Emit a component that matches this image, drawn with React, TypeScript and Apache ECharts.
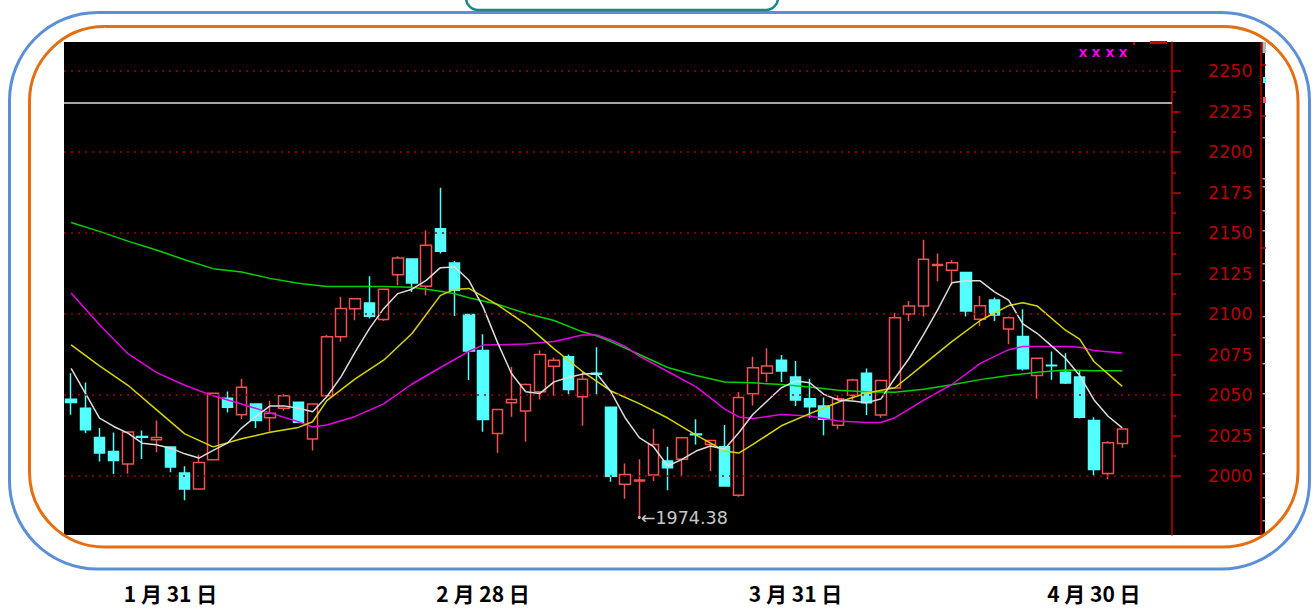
import React, { useEffect, useRef } from "react";
import * as echarts from "echarts";

// ---- data ----
const TOTAL_SLOTS = 78; // 75 trading days + 3 empty slots at the right edge
const categories: string[] = Array.from({ length: TOTAL_SLOTS }, (_, i) => `D${i + 1}`);

// [open, close, low, high]
const ohlc: number[][] = [
  [2047.4, 2045.4, 2037.8, 2063.4],
  [2041.9, 2028.5, 2026.5, 2057.7],
  [2023.8, 2014.2, 2009.0, 2029.6],
  [2015.2, 2009.6, 2001.2, 2026.9],
  [2007.4, 2027.1, 2001.4, 2027.5],
  [2024.4, 2024.0, 2010.5, 2028.1],
  [2022.4, 2023.8, 2014.6, 2034.3],
  [2017.9, 2005.5, 2002.3, 2018.2],
  [2001.8, 1992.0, 1985.0, 2006.0],
  [1992.0, 2008.4, 1992.0, 2013.1],
  [2010.1, 2051.1, 2010.1, 2051.5],
  [2048.0, 2042.5, 2039.2, 2052.1],
  [2037.8, 2054.8, 2035.1, 2059.9],
  [2044.5, 2034.3, 2029.6, 2044.5],
  [2035.9, 2038.8, 2027.5, 2046.4],
  [2041.9, 2049.5, 2040.4, 2050.5],
  [2045.6, 2033.2, 2032.6, 2045.6],
  [2022.8, 2044.5, 2015.8, 2044.5],
  [2049.5, 2086.0, 2049.5, 2087.0],
  [2086.0, 2103.4, 2082.9, 2110.6],
  [2103.3, 2109.5, 2096.2, 2109.5],
  [2106.8, 2098.6, 2097.2, 2123.3],
  [2096.6, 2115.3, 2095.7, 2115.3],
  [2124.3, 2134.6, 2117.7, 2135.6],
  [2134.0, 2119.2, 2113.6, 2134.0],
  [2117.1, 2142.4, 2111.6, 2151.6],
  [2152.7, 2138.7, 2137.3, 2177.9],
  [2131.5, 2114.6, 2098.8, 2132.7],
  [2099.7, 2077.1, 2059.2, 2099.7],
  [2077.5, 2034.9, 2027.3, 2087.5],
  [2026.3, 2041.1, 2014.4, 2041.1],
  [2045.2, 2047.3, 2036.6, 2067.4],
  [2040.1, 2056.5, 2021.2, 2057.1],
  [2052.0, 2075.0, 2047.3, 2077.7],
  [2067.8, 2071.5, 2049.5, 2073.1],
  [2073.6, 2053.4, 2050.5, 2075.0],
  [2048.9, 2059.8, 2031.0, 2064.7],
  [2063.5, 2062.8, 2050.5, 2079.5],
  [2042.5, 1999.8, 1996.4, 2042.5],
  [1994.9, 2001.0, 1986.0, 2007.8],
  [1996.9, 1997.5, 1974.38, 2010.3],
  [2000.6, 2019.5, 1996.9, 2029.2],
  [2009.3, 2005.1, 1991.2, 2018.1],
  [2010.3, 2023.7, 2000.0, 2023.7],
  [2026.0, 2025.5, 2019.5, 2035.0],
  [2019.5, 2022.0, 2003.1, 2022.0],
  [2018.1, 1993.8, 1993.8, 2031.5],
  [1988.1, 2048.4, 1987.2, 2051.9],
  [2050.8, 2066.9, 2043.6, 2073.7],
  [2063.4, 2067.9, 2058.0, 2078.8],
  [2071.4, 2064.8, 2058.0, 2074.7],
  [2061.1, 2046.9, 2043.2, 2071.0],
  [2047.7, 2042.8, 2036.0, 2060.1],
  [2043.2, 2035.0, 2025.1, 2048.4],
  [2031.3, 2047.7, 2028.8, 2049.8],
  [2049.8, 2059.3, 2046.9, 2060.1],
  [2063.5, 2045.2, 2037.7, 2066.3],
  [2037.6, 2059.0, 2036.0, 2059.3],
  [2054.3, 2097.7, 2054.3, 2100.8],
  [2100.0, 2104.9, 2095.7, 2108.0],
  [2104.9, 2133.8, 2098.4, 2145.9],
  [2129.9, 2130.5, 2120.3, 2137.3],
  [2127.0, 2131.6, 2117.8, 2133.2],
  [2125.6, 2101.8, 2098.4, 2125.6],
  [2096.7, 2105.1, 2092.6, 2111.1],
  [2108.6, 2099.4, 2095.7, 2110.2],
  [2090.8, 2097.7, 2081.4, 2098.4],
  [2086.1, 2066.2, 2065.2, 2102.9],
  [2062.1, 2072.7, 2047.7, 2072.7],
  [2068.4, 2068.0, 2059.4, 2076.8],
  [2064.1, 2057.4, 2056.8, 2075.8],
  [2061.1, 2036.3, 2035.5, 2065.2],
  [2034.2, 2004.1, 2000.4, 2036.3],
  [2001.6, 2020.5, 1998.0, 2021.5],
  [2020.1, 2029.1, 2017.4, 2029.1],
];

// short moving average (white), one value per day
const maWhite: number[] = [
  2066.5, 2051.1, 2035.7, 2030.6, 2026.5, 2020.3, 2019.3, 2017.2, 2013.7, 2011.1,
  2015.8, 2020.3, 2029.6, 2036.7, 2043.3, 2043.3, 2041.9, 2039.7, 2048.9, 2061.2,
  2076.6, 2091.0, 2103.3, 2112.6, 2115.3, 2120.8, 2128.6, 2129.0, 2120.8, 2104.4,
  2082.8, 2063.3, 2052.0, 2051.0, 2058.1, 2060.8, 2062.9, 2063.3, 2052.0, 2036.0,
  2023.7, 2018.1, 2006.2, 2010.3, 2015.4, 2018.5, 2016.5, 2026.7, 2038.1, 2046.3,
  2054.5, 2058.6, 2057.6, 2050.4, 2046.9, 2046.3, 2045.3, 2047.5, 2060.5, 2072.7,
  2087.1, 2102.5, 2119.3, 2120.5, 2120.5, 2113.7, 2108.6, 2093.9, 2088.1, 2080.5,
  2072.7, 2062.1, 2047.1, 2036.9, 2029.7,
];

// smoother averages, read at [day index, value]
const maYellow: number[][] = [
  [0, 2081], [2, 2068], [4, 2056], [6, 2041], [8, 2026], [10, 2018], [12, 2023],
  [14, 2027], [16, 2030], [17, 2033.5], [18, 2046.5], [20, 2060], [22, 2071.5],
  [24, 2088], [26, 2111.5], [27, 2115.2], [28, 2115.8], [30, 2105.8], [32, 2093.8],
  [34, 2078.5], [36, 2064.5], [38, 2052.5], [40, 2044.7], [42, 2035.8], [44, 2025.2],
  [46, 2015.5], [47, 2014.2], [48, 2019.5], [50, 2031], [52, 2038.5], [54, 2045.5],
  [56, 2051.3], [58, 2054.5], [60, 2068.8], [62, 2083], [64, 2096], [66, 2105.2],
  [67, 2107], [68, 2105], [70, 2090], [71, 2084.5], [72, 2070.7], [74, 2055.3],
];

const maMagenta: number[][] = [
  [0, 2113], [2, 2093.4], [4, 2075.5], [6, 2064], [8, 2056], [10, 2049.5],
  [12, 2044.5], [14, 2039], [16, 2033.5], [17, 2030.3], [18, 2031.5], [20, 2036.8],
  [22, 2044.5], [24, 2056.8], [26, 2067], [28, 2077], [29, 2080.8], [32, 2081.5],
  [34, 2083], [36, 2087], [37, 2087], [38, 2084], [39, 2080], [40, 2074],
  [42, 2064.5], [44, 2055], [46, 2041.5], [47, 2036.5], [48, 2035.5], [50, 2038],
  [52, 2037], [54, 2034], [56, 2033], [57, 2033], [58, 2036], [60, 2046.7],
  [62, 2056.5], [64, 2069.5], [66, 2078], [67, 2080], [70, 2080], [71, 2079.5],
  [72, 2077.5], [74, 2076],
];

const maGreen: number[][] = [
  [0, 2156.5], [2, 2151], [4, 2145], [6, 2139.5], [8, 2133.5], [10, 2128],
  [12, 2126], [14, 2122], [16, 2119], [18, 2117], [20, 2117], [22, 2117],
  [24, 2116.5], [26, 2114], [27, 2112.5], [28, 2110], [30, 2106], [32, 2100.5],
  [34, 2096], [36, 2089], [37, 2086.5], [38, 2083], [40, 2075], [42, 2067],
  [44, 2062], [46, 2058], [48, 2057.5], [50, 2056.5], [52, 2055], [54, 2053],
  [56, 2052], [58, 2051.7], [60, 2053.5], [62, 2056.4], [64, 2059.5], [66, 2062],
  [68, 2064], [70, 2065.5], [72, 2065], [74, 2065],
];

const lowMarkIndex = 40;
const lowMarkValue = 1974.38;
const resistanceLevel = 2230.4;

const yMin = 1963.6;
const yMax = 2267.9;
const majorTicks: number[] = [2000, 2025, 2050, 2075, 2100, 2125, 2150, 2175, 2200, 2225, 2250];
const minorTicks: number[] = [2012.5, 2037.5, 2062.5, 2087.5, 2112.5, 2137.5, 2162.5, 2187.5, 2212.5, 2237.5];
const gridValues: number[] = [2000, 2050, 2100, 2150, 2200, 2250];

const dateLabelIndex: number[] = [7, 29, 51, 72];
const dateLabelText: string[] = ["1 月 31 日", "2 月 28 日", "3 月 31 日", "4 月 30 日"];

const greyMarksY: number[] = [137, 178, 186, 210, 230, 263, 280, 316, 337, 363, 393, 427, 453, 473, 497, 520];

export default function App() {
  const ref = useRef<HTMLDivElement>(null);

  useEffect(() => {
    document.body.style.margin = "0";
    if (!ref.current) return;
    const chart = echarts.init(ref.current, null, { renderer: "svg" });

    const RED_AXIS = "#c00000";
    const labelMap: Record<number, string> = {};
    dateLabelIndex.forEach((idx, k) => (labelMap[idx] = dateLabelText[k]));

    const lineSeries = (name: string, data: any[], color: string) => ({
      name,
      type: "line",
      data,
      symbol: "none",
      connectNulls: true,
      smooth: false,
      z: 4,
      lineStyle: { color, width: 1.5 },
      silent: true,
    });

    const graphics: any[] = [
      // black panel
      { type: "rect", z: -10, shape: { x: 64, y: 42, width: 1201, height: 493 }, style: { fill: "#000" }, silent: true },
      // right side red divider and marks
      { type: "line", z: 10, shape: { x1: 1261, y1: 42, x2: 1261, y2: 535 }, style: { stroke: RED_AXIS, lineWidth: 1.5 } },
      ...[65, 116, 248].map((y) => ({ type: "line", z: 10, shape: { x1: 1261, y1: y, x2: 1266, y2: y }, style: { stroke: RED_AXIS, lineWidth: 1.5 } })),
      { type: "rect", z: 10, shape: { x: 1262.5, y: 42, width: 3.5, height: 11 }, style: { fill: "#b8b8b8" } },
      { type: "rect", z: 10, shape: { x: 1263, y: 77, width: 3, height: 6 }, style: { fill: "#54ffff" } },
      { type: "rect", z: 10, shape: { x: 1263, y: 97, width: 3, height: 6 }, style: { fill: "#ff5a5a" } },
      ...greyMarksY.map((y) => ({ type: "rect", z: 10, shape: { x: 1262.5, y, width: 3, height: 1.5 }, style: { fill: "#a8a8a8" } })),
      // top right red marks
      { type: "rect", z: 10, shape: { x: 1150, y: 41, width: 17, height: 3 }, style: { fill: "#d00000" } },
      { type: "rect", z: 10, shape: { x: 1133, y: 42, width: 2, height: 3 }, style: { fill: "#d00000" } },
      // magenta markers
      ...[1083, 1096, 1110, 1123].map((x) => ({
        type: "text", z: 10, x, y: 53,
        style: { text: "X", fill: "#ff00ff", font: "bold 11px 'DejaVu Sans'", align: "center", verticalAlign: "middle" },
      })),
      // decorative frames
      { type: "rect", z: 20, shape: { x: 9.5, y: 12.5, width: 1300, height: 556.5, r: 88 }, style: { fill: "none", stroke: "#5b8fd6", lineWidth: 3 }, silent: true },
      { type: "rect", z: 20, shape: { x: 29.5, y: 26.5, width: 1268.5, height: 520.5, r: 75 }, style: { fill: "none", stroke: "#e46f12", lineWidth: 3 }, silent: true },
      { type: "rect", z: 20, shape: { x: 466, y: -30, width: 312, height: 40, r: 12 }, style: { fill: "none", stroke: "#17898a", lineWidth: 2.5 }, silent: true },
    ];

    const option: any = {
      animation: false,
      backgroundColor: "#fff",
      grid: { left: 64, right: 140, top: 42, bottom: 75, containLabel: false },
      xAxis: {
        type: "category",
        data: categories,
        boundaryGap: true,
        axisLine: { show: false },
        axisTick: { show: false },
        splitLine: { show: false },
        axisLabel: {
          show: true,
          interval: (idx: number) => labelMap[idx] !== undefined,
          formatter: (_v: string, idx: number) => labelMap[idx] ?? "",
          margin: 48,
          lineHeight: 20,
          color: "#000",
          fontSize: 21,
          fontWeight: "bold",
          fontFamily: "'Noto Sans CJK SC', sans-serif",
        },
      },
      yAxis: [
        {
          type: "value",
          position: "right",
          min: yMin,
          max: yMax,
          splitLine: { show: false },
          axisLine: { show: true, lineStyle: { color: RED_AXIS, width: 1.5 } },
          axisTick: { show: true, customValues: majorTicks, length: 9, lineStyle: { color: RED_AXIS, width: 1.5 } },
          axisLabel: {
            customValues: majorTicks,
            formatter: (v: number) => String(Math.round(v)),
            margin: 36,
            color: "#b80000",
            fontSize: 17.5,
            fontFamily: "'DejaVu Sans'",
            align: "left",
          },
        },
        {
          type: "value",
          position: "right",
          min: yMin,
          max: yMax,
          splitLine: { show: false },
          axisLine: { show: false },
          axisTick: { show: true, customValues: minorTicks, length: 4, lineStyle: { color: RED_AXIS, width: 1.5 } },
          axisLabel: { show: false },
        },
      ],
      graphic: graphics,
      series: [
        {
          name: "K",
          type: "candlestick",
          data: ohlc,
          barWidth: 11,
          z: 3,
          itemStyle: {
            color: "#000000",
            color0: "#54ffff",
            borderColor: "#f05050",
            borderColor0: "#54ffff",
            borderWidth: 1.5,
          },
          markLine: {
            silent: true,
            symbol: ["none", "none"],
            label: { show: false },
            data: [
              ...gridValues.map((v) => ({ yAxis: v, lineStyle: { color: "#a00000", type: [2, 5], width: 1.5 } })),
              { yAxis: resistanceLevel, lineStyle: { color: "#a6a6a6", type: "solid", width: 2 } },
            ],
          },
          markPoint: {
            silent: true,
            data: [
              {
                coord: [categories[lowMarkIndex], lowMarkValue],
                symbol: "circle",
                symbolSize: 3,
                itemStyle: { color: "#c8c8c8" },
                label: {
                  show: true,
                  position: "right",
                  distance: 0,
                  formatter: "\u2190" + lowMarkValue.toFixed(2),
                  color: "#c8c8c8",
                  fontSize: 17.5,
                  fontFamily: "'DejaVu Sans'",
                },
              },
            ],
          },
        },
        lineSeries("MA-green", maGreen, "#00d200"),
        lineSeries("MA-magenta", maMagenta, "#e600e6"),
        lineSeries("MA-yellow", maYellow, "#d6d600"),
        lineSeries("MA-white", maWhite, "#dcdcdc"),
      ],
    };

    chart.setOption(option);
    return () => chart.dispose();
  }, []);

  return <div ref={ref} style={{ width: 1312, height: 610 }} />;
}
